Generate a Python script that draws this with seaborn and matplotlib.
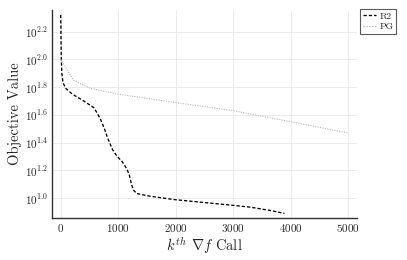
import numpy as np
import pandas as pd
import matplotlib
matplotlib.use("Agg")
import matplotlib.pyplot as plt
import seaborn as sns
from matplotlib.ticker import FixedLocator, FuncFormatter, NullLocator

# valores
r2_calls = [0, 5, 10, 20, 40, 90, 200, 400, 580, 650, 700, 760, 810, 900, 980,
            1075, 1150, 1190, 1230, 1260, 1320, 1540, 1970, 2960, 3300, 3660, 3890]
r2_obj = [208.9, 141.3, 100.0, 79.4, 67.6, 61.7, 56.2, 50.1, 44.7, 39.8, 36.3, 31.6,
          27.5, 22.4, 20.0, 18.2, 16.2, 14.8, 12.6, 11.5, 10.8, 10.35, 9.77, 8.91,
          8.61, 8.13, 7.76]
pg_calls = [0, 220, 520, 990, 1970, 3000, 4000, 5000]
pg_obj = [100.0, 70.8, 61.7, 56.2, 49.0, 42.7, 35.5, 29.5]
y_exps = [1.0, 1.2, 1.4, 1.6, 1.8, 2.0, 2.2]

df = pd.concat([
    pd.DataFrame({"call": r2_calls, "obj": r2_obj, "method": "R2"}),
    pd.DataFrame({"call": pg_calls, "obj": pg_obj, "method": "PG"}),
], ignore_index=True)

sns.set_theme(style="white")
plt.rcParams["font.family"] = "serif"
plt.rcParams["font.serif"] = ["cmr10", "DejaVu Serif"]
plt.rcParams["mathtext.fontset"] = "cm"
plt.rcParams["axes.formatter.use_mathtext"] = True

fig = plt.figure(figsize=(4.07, 2.6), dpi=100)
ax = fig.add_axes([0.128, 0.162, 0.749, 0.8])

sns.lineplot(data=df, x="call", y="obj", hue="method", style="method",
             palette={"R2": "black", "PG": "#b8b8b8"},
             dashes={"R2": (2.5, 1.5), "PG": (1, 1.2)},
             linewidth=0.95, ax=ax, estimator=None, sort=False)
ax.lines[1].set_linewidth(0.8)

ax.set_yscale("log")
ax.set_xlim(-150, 5150)
ax.set_ylim(10 ** 0.858, 10 ** 2.356)
ax.yaxis.set_major_locator(FixedLocator([10 ** e for e in y_exps]))
ax.yaxis.set_minor_locator(NullLocator())
ax.yaxis.set_major_formatter(FuncFormatter(lambda v, p: r"$10^{%.1f}$" % np.log10(v)))
ax.set_xticks([0, 1000, 2000, 3000, 4000, 5000])

ax.grid(True, color="#e8e8e8", linewidth=0.6)
for s in ["top", "right"]:
    ax.spines[s].set_visible(False)
for s in ["left", "bottom"]:
    ax.spines[s].set_color("#333333")
    ax.spines[s].set_linewidth(1.0)
ax.tick_params(axis="both", labelsize=8, length=2, direction="in", color="#999999", pad=3)

ax.set_xlabel(r"$k^{th}$ $\nabla f$ Call", fontsize=10.5, labelpad=1)
ax.set_ylabel("Objective Value", fontsize=10.5, labelpad=2)

leg = ax.legend(loc="upper left", bbox_to_anchor=(1.01, 1.005), fontsize=7,
                frameon=True, fancybox=False, edgecolor="#333333",
                handlelength=1.3, handletextpad=0.4, borderpad=0.3,
                labelspacing=0.2, borderaxespad=0)
leg.get_frame().set_linewidth(0.8)

plt.savefig("out.png", dpi=100)
